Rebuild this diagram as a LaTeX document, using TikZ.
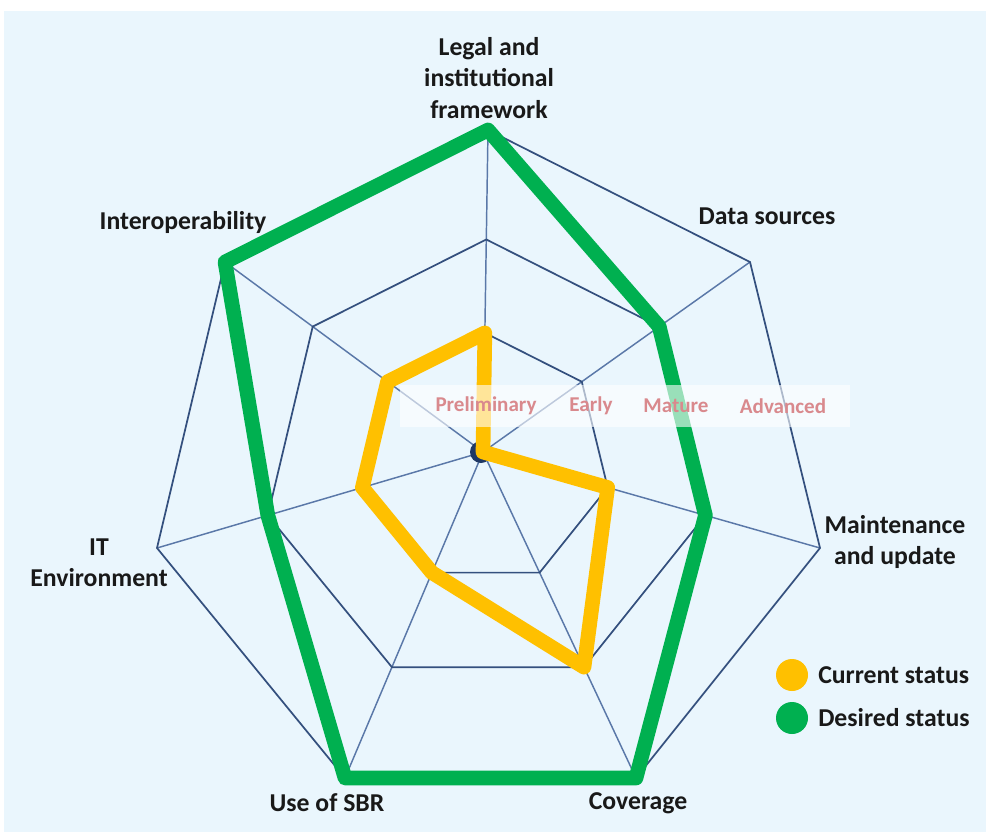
\documentclass[tikz,border=0pt]{standalone}
\usepackage{fontspec}
\setmainfont{Carlito}
\usepackage{tikz}
\usetikzlibrary{calc}
\definecolor{bgblue}{HTML}{EAF6FD}
\definecolor{gridcol}{HTML}{34507E}
\definecolor{spokecol}{HTML}{5A78A8}
\definecolor{curcol}{HTML}{FFC000}
\definecolor{descol}{HTML}{00B050}
\definecolor{dotcol}{HTML}{1F3864}
\definecolor{lvlcol}{HTML}{D9898D}
\tikzstyle{axis label}=[font=\fontsize{19.3}{23.3}\selectfont\bfseries, align=center, text=black!90, inner sep=0pt]
\tikzstyle{level label}=[font=\fontsize{15.8}{18}\selectfont\bfseries, text=lvlcol, inner sep=0pt]
\tikzstyle{key dot}=[circle, minimum size=24pt, inner sep=0pt]

\begin{document}
\begin{tikzpicture}[x=0.75pt,y=-0.75pt]
\useasboundingbox (0,0) rectangle (986,832);
\fill[bgblue] (4,11) rectangle (986,832);
% centre and outer corners of the web
\coordinate (c) at (483,452);
\coordinate (o1) at (488,130);
\coordinate (o2) at (750,262);
\coordinate (o3) at (820,548);
\coordinate (o4) at (636,778);
\coordinate (o5) at (345,778);
\coordinate (o6) at (157,548);
\coordinate (o7) at (225,262);
\foreach \i in {1,...,7} {
  \coordinate (a\i) at ($(c)!0.37!(o\i)$);
  \coordinate (b\i) at ($(c)!0.66!(o\i)$);
  \draw[spokecol, line width=1.1pt] (c) -- (o\i);
}
\draw[gridcol, line width=1.3pt] (a1) -- (a2) -- (a3) -- (a4) -- (a5) -- (a6) -- (a7) -- cycle;
\draw[gridcol, line width=1.3pt] (b1) -- (b2) -- (b3) -- (b4) -- (b5) -- (b6) -- (b7) -- cycle;
\draw[gridcol, line width=1.3pt] (o1) -- (o2) -- (o3) -- (o4) -- (o5) -- (o6) -- (o7) -- cycle;
%\draw[gridcol] (c) circle (160);
\fill[dotcol] (481,452) circle (11);
% desired and current status
\draw[descol, line width=11pt, line join=round] (o1) -- (b2) -- (b3) -- (o4) -- (o5) -- (b6) -- (o7) -- cycle;
\draw[curcol, line width=11pt, line join=round] (a1) -- (c) -- (a3) -- (b4) -- (a5) -- (a6) -- (a7) -- cycle;
% level band
\fill[white, opacity=0.6] (400,385) rectangle (850,427);
\node[level label] (prel) at (486,406) {Preliminary};
\node[level label] (early) at (591,406) {Early};
\node[level label] (mature) at (676,406) {Mature};
\node[level label] (adv) at (783,406) {Advanced};
% axis names
\node[axis label] (legal) at (489,78) {Legal and\\institutional\\framework};
\node[axis label] (data) at (767,216) {Data sources};
\node[axis label] (maint) at (895,542) {Maintenance\\and update};
\node[axis label] (itenv) at (99,563) {IT\\Environment};
\node[axis label] (inter) at (183,222) {Interoperability};
\node[axis label] (sbr) at (327,803) {Use of SBR};
\node[axis label] (cov) at (638,803) {Coverage};
% key
\node[key dot, fill=curcol] (curdot) at (792,675) {};
\node[key dot, fill=descol] (desdot) at (792,718) {};
\node[axis label, anchor=west] (curtxt) at (818,675) {Current status};
\node[axis label, anchor=west] (destxt) at (818,718) {Desired status};
\end{tikzpicture}
\end{document}
